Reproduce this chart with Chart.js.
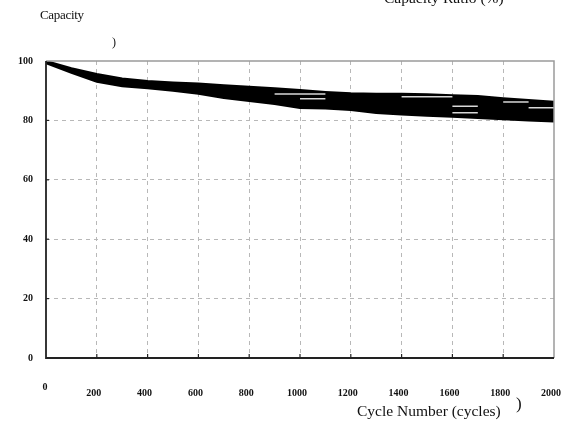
<!DOCTYPE html>
<html>
<head>
<meta charset="utf-8">
<script src="https://cdn.jsdelivr.net/npm/chart.js@4/dist/chart.umd.min.js"></script>
<style>
  html, body { margin: 0; padding: 0; background: #fff; }
  #wrap { position: relative; width: 569px; height: 426px; overflow: hidden; }
  canvas { position: absolute; left: 0; top: 0; }
  .lbl { position: absolute; font-family: "Liberation Serif", "DejaVu Serif", serif; color: #111; white-space: nowrap; line-height: 1; }
</style>
</head>
<body>
<div id="wrap">
  <canvas id="c" width="569" height="426"></canvas>
  <div class="lbl" style="left:40px; top:8px; font-size:13px; letter-spacing:-0.3px;">Capacity</div>
  <div class="lbl" style="left:112px; top:36px; font-size:12px;">)</div>
  <div class="lbl" style="left:384px; top:-10px; font-size:15.5px;">Capacity Ratio (%)</div>
  <div class="lbl" style="left:357px; top:403px; font-size:15.5px;">Cycle Number (cycles)</div>
  <div class="lbl" style="left:516px; top:395px; font-size:17px;">)</div>
</div>
<script>
// ---- data ----
const cycles = [0,100,200,300,400,500,600,700,800,900,1000,1100,1200,1300,1400,1500,1600,1700,1800,1900,2000];
const upperCapacity = [100,97.6,95.6,94.1,93.3,92.8,92.4,91.8,91.3,90.8,90.2,89.6,89.1,89.0,89.0,88.8,88.5,88.2,87.5,86.9,86.3];
const lowerCapacity = [99.3,96.0,93.0,91.5,90.8,90.0,89.0,87.5,86.5,85.5,84.2,84.0,83.5,82.5,82.0,81.6,81.2,80.8,80.4,80.0,79.6];
// light streaks visible inside the dark band
const streakA = [null,null,null,null,null,null,null,null,null,88.9,88.9,88.9,null,null,88.0,88.0,88.0,null,null,null,null];
const streakB = [null,null,null,null,null,null,null,null,null,null,87.3,87.3,null,null,null,null,84.8,84.8,null,null,null];
const streakC = [null,null,null,null,null,null,null,null,null,null,null,null,null,null,null,null,82.6,82.6,null,84.3,84.3];
const streakD = [null,null,null,null,null,null,null,null,null,null,null,null,null,null,null,null,null,null,86.2,86.2,null];
const xTicks = [0,200,400,600,800,1000,1200,1400,1600,1800,2000];
const yTicks = [0,20,40,60,80,100];

const pts = arr => cycles.map((c, i) => ({ x: c, y: arr[i] }));

const framePlugin = {
  id: 'frame',
  afterDraw(chart) {
    const { ctx, chartArea: a, scales: { x, y } } = chart;
    ctx.save();
    ctx.strokeStyle = '#9a9a9a';
    ctx.lineWidth = 1.5;
    ctx.beginPath();
    ctx.moveTo(a.left, a.top); ctx.lineTo(a.right, a.top); ctx.lineTo(a.right, a.bottom);
    ctx.stroke();
    ctx.strokeStyle = '#222';
    ctx.lineWidth = 1.8;
    ctx.beginPath();
    ctx.moveTo(a.left, a.top); ctx.lineTo(a.left, a.bottom); ctx.lineTo(a.right, a.bottom);
    ctx.stroke();
    ctx.lineWidth = 1.2;
    yTicks.forEach(v => { if (v > 0 && v < 100) { const py = y.getPixelForValue(v); ctx.beginPath(); ctx.moveTo(a.left, py); ctx.lineTo(a.left + 3, py); ctx.stroke(); } });
    xTicks.forEach(v => { if (v > 0 && v < 2000) { const px = x.getPixelForValue(v); ctx.beginPath(); ctx.moveTo(px, a.bottom); ctx.lineTo(px, a.bottom - 4); ctx.stroke(); } });
    ctx.fillStyle = '#111';
    ctx.font = 'bold 10px "Liberation Serif", serif';
    ctx.textAlign = 'center';
    ctx.textBaseline = 'middle';
    ctx.fillText('0', x.getPixelForValue(0) - 1, a.bottom + 29);
    ctx.restore();
  }
};

const streak = (label, arr) => ({ label, order: 0, data: pts(arr), borderColor: '#d8d8d8', borderWidth: 1.5, pointRadius: 0, spanGaps: false, fill: false });

new Chart(document.getElementById('c'), {
  type: 'line',
  data: {
    datasets: [
      { label: 'lower', order: 2, data: pts(lowerCapacity), borderColor: '#000', borderWidth: 2, pointRadius: 0, fill: false },
      { label: 'upper', order: 1, data: pts(upperCapacity), borderColor: '#000', borderWidth: 2, pointRadius: 0, fill: '-1', backgroundColor: '#000' },
      streak('a', streakA),
      streak('b', streakB),
      streak('c', streakC),
      streak('d', streakD)
    ]
  },
  options: {
    responsive: false,
    animation: false,
    layout: { padding: { top: 61, right: 15, left: 0, bottom: 0 } },
    plugins: { legend: { display: false }, tooltip: { enabled: false } },
    scales: {
      x: {
        type: 'linear', min: 0, max: 2000,
        afterBuildTicks: s => { s.ticks = xTicks.map(v => ({ value: v })); },
        afterFit: s => { s.height = 68; s.paddingLeft = 0; s.paddingRight = 0; },
        ticks: {
          padding: 29, maxRotation: 0, autoSkip: false, labelOffset: -3,
          color: '#111', font: { family: 'Liberation Serif', size: 10, weight: 'bold' },
          callback: v => (v === 0 ? '' : String(v))
        },
        grid: {
          drawTicks: false,
          color: c => (c.tick && (c.tick.value === 0 || c.tick.value === 2000)) ? 'rgba(0,0,0,0)' : '#b8b8b8',
          lineWidth: 1
        },
        border: { display: false, dash: [4, 4] }
      },
      y: {
        min: 0, max: 100,
        afterBuildTicks: s => { s.ticks = yTicks.map(v => ({ value: v })); },
        afterFit: s => { s.width = 46; s.paddingTop = 0; s.paddingBottom = 0; },
        ticks: {
          padding: 13,
          color: '#111', font: { family: 'Liberation Serif', size: 10, weight: 'bold' }
        },
        grid: {
          drawTicks: false,
          color: c => (c.tick && (c.tick.value === 0 || c.tick.value === 100)) ? 'rgba(0,0,0,0)' : '#b8b8b8',
          lineWidth: 1
        },
        border: { display: false, dash: [4, 4] }
      }
    }
  },
  plugins: [framePlugin]
});
</script>
</body>
</html>
